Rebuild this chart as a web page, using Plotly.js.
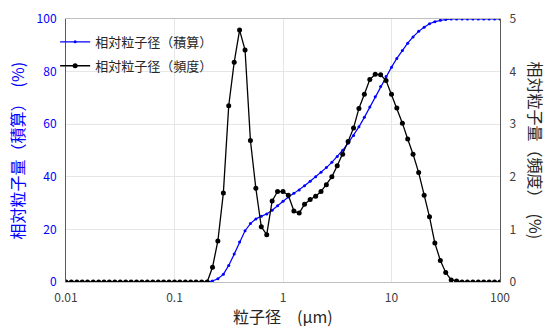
<!DOCTYPE html>
<html>
<head>
<meta charset="utf-8">
<script src="https://cdn.plot.ly/plotly-3.0.1.min.js"></script>
<style>html,body{margin:0;padding:0;background:#fff;}#chart{width:547px;height:330px;}</style>
</head>
<body>
<div id="chart"></div>
<script>
// particle size (µm)
const sizes = [0.01,0.0112,0.0126,0.0141,0.0158,0.0178,0.02,0.0224,0.0251,0.0282,
  0.0316,0.0355,0.0398,0.0447,0.0501,0.0562,0.0631,0.0708,0.0794,0.0891,
  0.1,0.112,0.126,0.141,0.158,0.178,0.2,0.224,0.251,0.282,
  0.316,0.355,0.398,0.447,0.501,0.562,0.631,0.708,0.794,0.891,
  1,1.12,1.26,1.41,1.58,1.78,2,2.24,2.51,2.82,
  3.16,3.55,3.98,4.47,5.01,5.62,6.31,7.08,7.94,8.91,
  10,11.2,12.6,14.1,15.8,17.8,20,22.4,25.1,28.2,
  31.6,35.5,39.8,44.7,50.1,56.2,63.1,70.8,79.4,89.1,100];
// cumulative (%)
const cumulative = [0,0,0,0,0,0,0,0,0,0,
  0,0,0,0,0,0,0,0,0,0,
  0,0,0,0,0,0,0,0.4,1.2,2.9,
  6.3,10.6,15.2,19.5,22.2,24.0,25.0,25.9,27.3,29.0,
  30.7,32.3,33.7,35.0,36.6,38.3,40.0,41.7,43.5,45.5,
  47.7,50.1,52.8,55.7,59.0,62.6,66.5,70.4,74.3,78.1,
  81.7,85.0,88.0,90.8,93.2,95.3,96.9,98.2,99.0,99.5,
  99.8,100,100,100,100,100,100,100,100,100,100];
// frequency (%)
const frequency = [0,0,0,0,0,0,0,0,0,0,
  0,0,0,0,0,0,0,0,0,0,
  0,0,0,0,0,0,0,0.28,0.78,1.69,
  3.35,4.18,4.79,4.41,2.69,1.78,1.05,0.90,1.54,1.72,
  1.72,1.65,1.35,1.31,1.48,1.57,1.63,1.72,1.85,2.00,
  2.21,2.43,2.67,2.93,3.30,3.57,3.85,3.95,3.94,3.83,
  3.57,3.31,3.02,2.72,2.43,2.08,1.65,1.24,0.74,0.41,
  0.18,0.04,0.02,0,0,0,0,0,0,0,0];
const xTickVals = [0.01,0.1,1,10,100];
const xTickText = ['0.01','0.1','1','10','100'];
const seriesNames = ['相対粒子径（積算）','相対粒子径（頻度）'];

const F = '"Noto Sans CJK JP", "Noto Sans", sans-serif';

const traces = [
  {x: sizes, y: cumulative, name: seriesNames[0], legendgroup: 'a', type: 'scatter', mode: 'lines+markers',
   line: {color: '#0000ff', width: 1.2}, marker: {color: '#0000ff', size: 3}, yaxis: 'y'},
  {x: sizes, y: frequency, name: seriesNames[1], legendgroup: 'b', type: 'scatter', mode: 'lines+markers',
   line: {color: '#000000', width: 1.3}, marker: {color: '#000000', size: 5}, yaxis: 'y2'}
];

const layout = {
  width: 547, height: 330,
  margin: {l: 66, r: 47, t: 19, b: 48},
  paper_bgcolor: '#fff', plot_bgcolor: '#fff',
  font: {family: F, size: 12, color: '#404040'},
  showlegend: true,
  legend: {x: -0.025, y: 0.97, xanchor: 'left', yanchor: 'top', bgcolor: 'rgba(0,0,0,0)',
    traceorder: 'grouped', tracegroupgap: 4,
    font: {family: F, size: 13, color: '#262626'}},
  xaxis: {type: 'log', range: [-2, 2], tickvals: xTickVals, ticktext: xTickText,
    showgrid: true, gridcolor: '#e6e6e6', showline: true, linecolor: '#bfbfbf', mirror: true,
    ticks: '', zeroline: false, ticklabelstandoff: 5, tickfont: {family: F, size: 12, color: '#404040'}},
  yaxis: {range: [0, 100], dtick: 20, showgrid: true, gridcolor: '#e6e6e6', zeroline: false,
    showline: true, linecolor: '#595959', ticks: '', ticklabelstandoff: 6,
    tickfont: {family: F, size: 12, color: '#0000ff'}},
  yaxis2: {range: [0, 5], dtick: 1, overlaying: 'y', side: 'right', showgrid: false, zeroline: false,
    showline: true, linecolor: '#595959', ticks: '', ticklabelstandoff: 6,
    tickfont: {family: F, size: 12, color: '#404040'}},
  annotations: [
    {text: '粒子径　(µm)', xref: 'paper', yref: 'paper', x: 0.5, y: -0.128,
     xanchor: 'center', yanchor: 'middle', showarrow: false,
     font: {family: F, size: 16, color: '#262626'}},
    {text: '相対粒子量（積算）　(%)', xref: 'paper', yref: 'paper', x: -0.113, y: 0.5,
     xanchor: 'center', yanchor: 'middle',
     textangle: -90, showarrow: false, font: {family: F, size: 16, color: '#0000ff'}},
    {text: '相対粒子量（頻度）　(%)', xref: 'paper', yref: 'paper', x: 1.085, y: 0.5,
     xanchor: 'center', yanchor: 'middle',
     textangle: 90, showarrow: false, font: {family: F, size: 16, color: '#262626'}}
  ]
};

Plotly.newPlot('chart', traces, layout, {displayModeBar: false, staticPlot: true});
</script>
</body>
</html>
